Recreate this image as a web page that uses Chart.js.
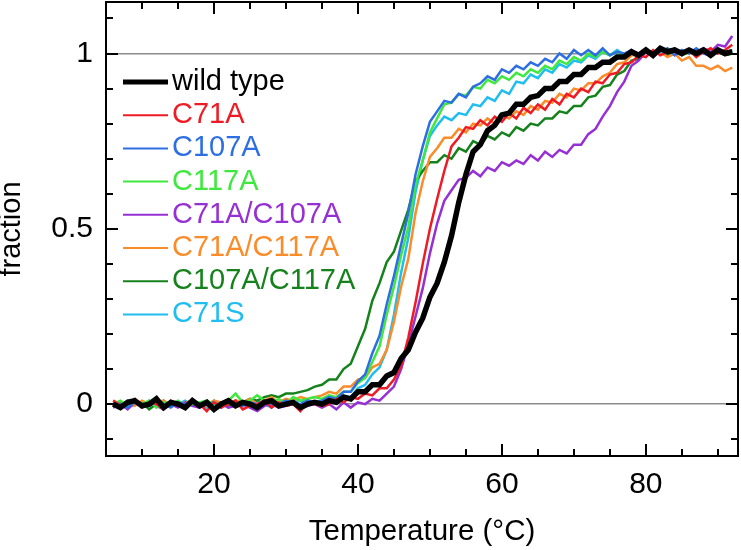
<!DOCTYPE html>
<html><head><meta charset="utf-8">
<script src="https://cdn.jsdelivr.net/npm/chart.js@4/dist/chart.umd.min.js"></script>
<style>html,body{margin:0;padding:0;background:#fff}#wrap{width:741px;height:550px}</style>
</head><body><div id="wrap"><canvas id="c" width="741" height="550"></canvas></div>
<script>
// ---- data ----
const temperatures = [6,7,8,9,10,11,12,13,14,15,16,17,18,19,20,21,22,23,24,25,26,27,28,29,30,31,32,33,34,35,
  36,37,38,39,40,41,42,43,44,45,46,47,48,49,50,51,52,53,54,55,56,57,58,59,60,61,62,63,64,65,
  66,67,68,69,70,71,72,73,74,75,76,77,78,79,80,81,82,83,84,85,86,87,88,89,90,91,92];

const seriesNames = ['wild type','C71A','C107A','C117A','C71A/C107A','C71A/C117A','C107A/C117A','C71S'];

const wildType = [0.0,-0.01,0.005,0.01,-0.005,0.0,0.015,-0.01,0.005,0.0,-0.01,0.01,-0.005,0.005,-0.015,0.0,0.01,-0.005,0.005,0.0,-0.01,0.005,0.01,-0.005,0.0,0.005,-0.01,0.0,0.005,0.0,
  0.01,0.005,0.02,0.015,0.035,0.035,0.055,0.055,0.08,0.09,0.13,0.155,0.205,0.245,0.305,0.345,0.405,0.48,0.575,0.655,0.72,0.74,0.78,0.795,0.825,0.83,0.855,0.855,0.875,0.88,
  0.9,0.9,0.92,0.92,0.94,0.94,0.96,0.96,0.975,0.975,0.99,0.99,1.005,0.995,1.01,0.995,1.015,1.005,1.01,1.0,1.01,1.0,1.01,0.995,1.01,1.0,1.005];

const c71a = [0.01,-0.005,0.0,0.015,-0.01,0.005,0.0,-0.015,0.01,0.0,-0.005,0.01,0.0,-0.02,0.005,-0.01,0.0,0.01,-0.015,-0.005,0.0,0.01,-0.01,0.005,-0.005,0.0,-0.02,0.005,0.0,-0.005,
  0.0,0.015,0.005,0.02,0.015,0.03,0.025,0.045,0.045,0.07,0.11,0.19,0.29,0.4,0.5,0.585,0.665,0.735,0.76,0.79,0.785,0.81,0.795,0.82,0.805,0.83,0.815,0.845,0.83,0.855,
  0.84,0.87,0.855,0.885,0.875,0.9,0.89,0.92,0.915,0.94,0.945,0.97,0.975,0.995,0.99,1.01,0.995,1.005,1.01,0.995,1.01,0.99,1.005,1.015,1.0,1.01,1.025];

const c107a = [0.005,0.0,-0.01,0.01,0.0,-0.005,0.015,0.0,-0.01,0.005,0.0,0.01,-0.005,0.0,0.005,-0.01,0.01,0.0,-0.005,0.005,0.0,0.01,-0.005,0.0,0.01,0.005,0.0,0.01,0.005,0.01,
  0.02,0.015,0.035,0.035,0.065,0.085,0.145,0.195,0.285,0.365,0.455,0.545,0.655,0.735,0.805,0.835,0.865,0.86,0.885,0.875,0.905,0.915,0.935,0.925,0.955,0.945,0.965,0.955,0.975,0.965,
  0.985,0.975,1.0,0.985,1.01,0.995,1.01,0.995,1.015,0.995,1.005,1.0,1.01,0.995,1.01,1.0,1.005,1.015,0.995,1.01,1.0,1.015,1.0,0.995,1.015,1.0,1.01];

const c117a = [0.0,0.01,-0.005,0.005,0.0,0.01,-0.01,0.005,0.0,0.01,-0.005,0.0,0.005,0.01,0.0,-0.005,0.01,0.03,0.005,0.01,0.025,0.01,0.005,0.015,0.0,0.02,0.01,0.015,0.02,0.015,
  0.025,0.02,0.035,0.035,0.06,0.075,0.12,0.165,0.255,0.335,0.425,0.505,0.625,0.695,0.775,0.815,0.855,0.86,0.885,0.88,0.905,0.9,0.925,0.915,0.935,0.925,0.945,0.935,0.955,0.945,
  0.965,0.955,0.98,0.97,0.99,0.98,1.0,0.99,1.005,0.995,1.005,0.995,1.005,0.995,1.01,0.995,1.005,1.0,1.01,0.995,1.005,1.0,1.01,0.995,1.01,1.0,1.005];

const c71aC107a = [-0.01,0.0,-0.015,0.005,-0.01,0.0,-0.005,-0.015,0.0,-0.01,0.005,-0.005,-0.01,0.0,-0.015,0.005,-0.01,-0.005,0.0,-0.01,-0.02,-0.005,0.0,-0.01,-0.005,0.0,-0.015,-0.005,0.0,-0.01,
  0.0,-0.015,0.005,-0.01,0.005,0.0,0.015,0.01,0.03,0.05,0.1,0.17,0.25,0.33,0.43,0.515,0.58,0.61,0.64,0.645,0.665,0.65,0.675,0.665,0.69,0.68,0.695,0.685,0.71,0.695,
  0.72,0.705,0.725,0.715,0.74,0.74,0.77,0.785,0.82,0.85,0.89,0.92,0.965,0.98,1.005,0.995,1.01,1.0,1.015,1.0,1.01,1.005,1.015,1.005,1.025,1.02,1.05];

const c71aC117a = [0.01,0.0,0.005,-0.005,0.01,0.0,0.005,0.01,-0.005,0.0,0.005,0.01,0.0,-0.005,0.01,0.005,0.0,0.01,0.005,0.015,0.0,0.01,0.02,0.005,0.015,0.01,0.02,0.015,0.02,0.025,
  0.035,0.03,0.05,0.05,0.07,0.075,0.105,0.115,0.155,0.235,0.335,0.415,0.545,0.635,0.705,0.73,0.76,0.76,0.785,0.775,0.8,0.795,0.815,0.8,0.825,0.815,0.835,0.825,0.85,0.84,
  0.865,0.86,0.885,0.875,0.9,0.895,0.915,0.915,0.935,0.945,0.97,0.975,0.995,0.995,1.005,0.995,1.005,0.99,1.0,0.98,0.99,0.965,0.965,0.955,0.965,0.95,0.96];

const c107aC117a = [-0.005,0.005,-0.01,0.0,0.005,-0.015,0.0,0.01,-0.005,0.0,-0.01,0.005,0.0,-0.005,0.01,0.0,-0.005,0.01,0.005,0.015,0.01,0.02,0.025,0.02,0.03,0.03,0.035,0.04,0.05,0.055,
  0.07,0.07,0.1,0.115,0.165,0.215,0.295,0.345,0.405,0.435,0.495,0.555,0.635,0.665,0.69,0.69,0.71,0.7,0.73,0.72,0.75,0.74,0.765,0.755,0.775,0.765,0.79,0.78,0.8,0.795,
  0.815,0.815,0.835,0.83,0.85,0.85,0.875,0.88,0.905,0.91,0.94,0.95,0.98,0.985,1.005,0.995,1.01,0.995,1.005,1.0,1.01,0.995,1.005,1.0,1.005,0.995,1.0];

const c71s = [0.005,-0.01,0.01,0.0,-0.005,0.01,0.0,-0.01,0.005,0.0,0.01,-0.005,0.0,-0.01,0.005,0.0,-0.01,0.005,0.0,-0.005,0.01,0.0,-0.01,0.005,0.0,0.005,0.01,0.0,0.005,0.01,
  0.015,0.01,0.025,0.02,0.045,0.055,0.085,0.105,0.155,0.255,0.375,0.475,0.605,0.695,0.765,0.795,0.82,0.81,0.83,0.825,0.855,0.85,0.875,0.865,0.895,0.885,0.92,0.915,0.94,0.93,
  0.955,0.945,0.97,0.96,0.98,0.975,0.995,0.985,1.005,0.995,1.01,0.995,1.005,1.0,1.01,0.995,1.01,1.0,1.005,0.995,1.01,1.0,1.005,0.995,1.005,1.01,1.0];

const seriesValues = [wildType, c71a, c107a, c117a, c71aC107a, c71aC117a, c107aC117a, c71s];

const xTickLabels = [20, 40, 60, 80];
const xMinorTicks = [10,15,25,30,35,45,50,55,65,70,75,85,90];
const yTickLabels = [0, 0.5, 1];
const yMinorTicks = [-0.1,0.1,0.2,0.3,0.4,0.6,0.7,0.8,0.9,1.1];

// ---- styles ----
const seriesColors = ['#000000','#ee1b24','#2d6fe2','#3ee83e','#9630d4','#fa8c2a','#16821c','#20bdf0'];
const seriesWidths = [5.5, 2.5, 2.5, 2.5, 2.5, 2.5, 2.5, 2.5];
const FONT = '"Liberation Sans", Arial, sans-serif';

const framePlugin = {
  id: 'frame',
  afterDraw(chart) {
    const {ctx, chartArea: a, scales: {x, y}} = chart;
    ctx.save();
    ctx.strokeStyle = '#000';
    ctx.lineWidth = 2;
    ctx.beginPath();
    const yt = [...yTickLabels.map(v => [v, 12]), ...yMinorTicks.map(v => [v, 7])];
    yt.forEach(([v, len]) => {
      const py = Math.round(y.getPixelForValue(v));
      ctx.moveTo(a.left, py); ctx.lineTo(a.left + len, py);
      ctx.moveTo(a.right, py); ctx.lineTo(a.right - len, py);
    });
    const xt = [...xTickLabels.map(v => [v, 12]), ...xMinorTicks.map(v => [v, 7])];
    xt.forEach(([v, len]) => {
      const px = Math.round(x.getPixelForValue(v));
      ctx.moveTo(px, a.bottom); ctx.lineTo(px, a.bottom - len);
      ctx.moveTo(px, a.top); ctx.lineTo(px, a.top + len);
    });
    ctx.stroke();
    ctx.strokeRect(a.left, a.top, a.right - a.left, a.bottom - a.top);

    // legend
    ctx.font = '29px ' + FONT;
    ctx.textBaseline = 'middle';
    ctx.textAlign = 'left';
    seriesNames.forEach((name, i) => {
      const ly = 82 + i * 33.2;
      ctx.strokeStyle = seriesColors[i];
      ctx.lineWidth = i === 0 ? 5 : 2;
      ctx.beginPath();
      ctx.moveTo(123, ly); ctx.lineTo(168, ly);
      ctx.stroke();
      ctx.fillStyle = seriesColors[i];
      ctx.fillText(name, 172, ly);
    });
    ctx.restore();
  }
};

const datasets = seriesNames.map((name, i) => ({
  label: name,
  data: temperatures.map((t, j) => ({x: t, y: seriesValues[i][j]})),
  borderColor: seriesColors[i],
  backgroundColor: seriesColors[i],
  borderWidth: seriesWidths[i],
  pointRadius: 0,
  tension: 0,
  fill: false
}));

new Chart(document.getElementById('c'), {
  type: 'line',
  data: {datasets},
  plugins: [framePlugin],
  options: {
    responsive: false,
    animation: false,
    devicePixelRatio: 1,
    layout: {padding: {top: 2, right: 3, left: 0, bottom: 0}},
    plugins: {legend: {display: false}, tooltip: {enabled: false}},
    scales: {
      x: {
        type: 'linear', min: 5, max: 92.8,
        afterBuildTicks: s => { s.ticks = xTickLabels.map(v => ({value: v})); },
        afterFit: s => { s.height = 94; s.paddingLeft = 0; s.paddingRight = 0; },
        grid: {display: false, drawTicks: false},
        border: {display: false},
        ticks: {color: '#000', font: {family: FONT, size: 30}, padding: 11, maxRotation: 0, autoSkip: false, callback: v => String(v)},
        title: {display: true, text: 'Temperature (°C)', color: '#000', font: {family: FONT, size: 29.5}, padding: {top: 0, bottom: 0}}
      },
      y: {
        type: 'linear', min: -0.148, max: 1.147,
        afterBuildTicks: s => { s.ticks = yTickLabels.map(v => ({value: v})); },
        afterFit: s => { s.width = 106; s.paddingTop = 0; s.paddingBottom = 0; },
        grid: {drawTicks: false, lineWidth: 1.5,
               color: c => (c.tick && (c.tick.value === 0 || c.tick.value === 1)) ? '#8c8c8c' : 'rgba(0,0,0,0)'},
        border: {display: false},
        ticks: {color: '#000', font: {family: FONT, size: 30}, padding: 13, callback: v => String(v)},
        title: {display: true, text: 'fraction', color: '#000', font: {family: FONT, size: 29, lineHeight: 0.8}, padding: {top: 0, bottom: 0}}
      }
    }
  }
});
</script></body></html>
